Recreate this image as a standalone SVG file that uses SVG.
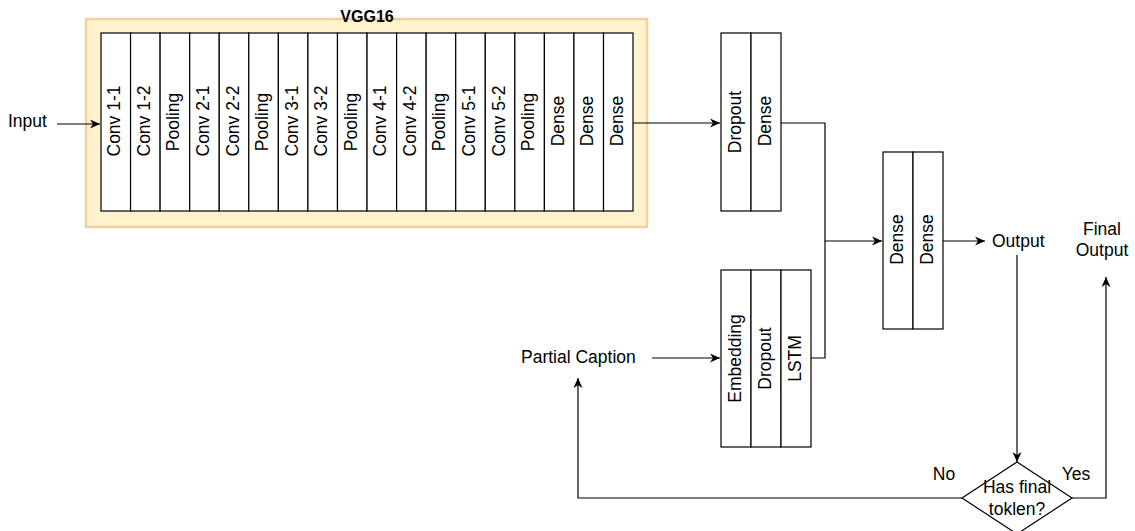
<svg xmlns="http://www.w3.org/2000/svg" width="1135" height="531" viewBox="0 0 1135 531">
<style>
  text { font-family: "Liberation Sans", Arial, sans-serif; font-size: 17.5px; fill: #000; }
  .lbl { text-anchor: middle; }
  .col { fill: #fff; stroke: #000; stroke-width: 1.2; }
  .con { fill: none; stroke: #000; stroke-width: 1.2; }
</style>
<defs>
  <marker id="arr" viewBox="0 0 10 10" refX="10" refY="5" markerWidth="10" markerHeight="10" markerUnits="userSpaceOnUse" orient="auto">
    <path d="M0,0.5 L10,5 L0,9.5 L3,5 z" fill="#000"/>
  </marker>
</defs>
<rect width="1135" height="531" fill="#fff"/>

<g id="vgg16">
  <rect x="86" y="19" width="561" height="208" fill="#fff2cc" stroke="#f0d39c" stroke-width="2.5"/>
  <text x="367" y="22" class="lbl" style="font-weight:bold;font-size:16px">VGG16</text>
  <g id="vgg-layers">
    <rect class="col" x="101" y="33" width="29.56" height="178"/>
    <rect class="col" x="130.56" y="33" width="29.56" height="178"/>
    <rect class="col" x="160.12" y="33" width="29.56" height="178"/>
    <rect class="col" x="189.68" y="33" width="29.56" height="178"/>
    <rect class="col" x="219.24" y="33" width="29.56" height="178"/>
    <rect class="col" x="248.8" y="33" width="29.56" height="178"/>
    <rect class="col" x="278.36" y="33" width="29.56" height="178"/>
    <rect class="col" x="307.92" y="33" width="29.56" height="178"/>
    <rect class="col" x="337.48" y="33" width="29.56" height="178"/>
    <rect class="col" x="367.04" y="33" width="29.56" height="178"/>
    <rect class="col" x="396.6" y="33" width="29.56" height="178"/>
    <rect class="col" x="426.16" y="33" width="29.56" height="178"/>
    <rect class="col" x="455.72" y="33" width="29.56" height="178"/>
    <rect class="col" x="485.28" y="33" width="29.56" height="178"/>
    <rect class="col" x="514.84" y="33" width="29.56" height="178"/>
    <rect class="col" x="544.4" y="33" width="29.56" height="178"/>
    <rect class="col" x="573.96" y="33" width="29.56" height="178"/>
    <rect class="col" x="603.52" y="33" width="29.48" height="178"/>
    <text class="lbl" transform="translate(120.3,121) rotate(-90)">Conv 1-1</text>
    <text class="lbl" transform="translate(149.8,121) rotate(-90)">Conv 1-2</text>
    <text class="lbl" transform="translate(179.4,122) rotate(-90)">Pooling</text>
    <text class="lbl" transform="translate(209,121) rotate(-90)">Conv 2-1</text>
    <text class="lbl" transform="translate(238.5,121) rotate(-90)">Conv 2-2</text>
    <text class="lbl" transform="translate(268.1,122) rotate(-90)">Pooling</text>
    <text class="lbl" transform="translate(297.6,121) rotate(-90)">Conv 3-1</text>
    <text class="lbl" transform="translate(327.2,121) rotate(-90)">Conv 3-2</text>
    <text class="lbl" transform="translate(356.8,122) rotate(-90)">Pooling</text>
    <text class="lbl" transform="translate(386.3,121) rotate(-90)">Conv 4-1</text>
    <text class="lbl" transform="translate(415.9,121) rotate(-90)">Conv 4-2</text>
    <text class="lbl" transform="translate(445.4,122) rotate(-90)">Pooling</text>
    <text class="lbl" transform="translate(475,121) rotate(-90)">Conv 5-1</text>
    <text class="lbl" transform="translate(504.6,121) rotate(-90)">Conv 5-2</text>
    <text class="lbl" transform="translate(534.1,122) rotate(-90)">Pooling</text>
    <text class="lbl" transform="translate(563.7,121) rotate(-90)">Dense</text>
    <text class="lbl" transform="translate(593.2,121) rotate(-90)">Dense</text>
    <text class="lbl" transform="translate(622.8,121) rotate(-90)">Dense</text>
  </g>
</g>

<g id="input">
  <text x="8" y="127">Input</text>
</g>

<g id="dropout-dense">
  <rect class="col" x="721" y="33" width="30" height="178"/>
  <rect class="col" x="751" y="33" width="30" height="178"/>
  <text class="lbl" transform="translate(740.5,122) rotate(-90)">Dropout</text>
  <text class="lbl" transform="translate(770.5,121) rotate(-90)">Dense</text>
</g>

<g id="partial-caption">
  <text x="521" y="363">Partial Caption</text>
</g>

<g id="embedding-dropout-lstm">
  <rect class="col" x="721" y="270" width="30" height="177"/>
  <rect class="col" x="751" y="270" width="30" height="177"/>
  <rect class="col" x="781" y="270" width="30" height="177"/>
  <text class="lbl" transform="translate(740.5,358.5) rotate(-90)">Embedding</text>
  <text class="lbl" transform="translate(770.5,358.5) rotate(-90)">Dropout</text>
  <text class="lbl" transform="translate(800.5,358.5) rotate(-90)">LSTM</text>
</g>

<g id="dense-dense">
  <rect class="col" x="883" y="152" width="30" height="177"/>
  <rect class="col" x="913" y="152" width="30" height="177"/>
  <text class="lbl" transform="translate(902.5,239.5) rotate(-90)">Dense</text>
  <text class="lbl" transform="translate(932.5,239.5) rotate(-90)">Dense</text>
</g>

<g id="output">
  <text x="992" y="247">Output</text>
</g>

<g id="final-output">
  <text x="1102" y="235" class="lbl">Final</text>
  <text x="1102" y="256" class="lbl">Output</text>
</g>

<g id="decision">
  <polygon points="1017,462 1072,498 1017,534 962,498" fill="#fff" stroke="#000" stroke-width="1.2"/>
  <text x="1017" y="493" class="lbl">Has final</text>
  <text x="1017" y="515" class="lbl">toklen?</text>
</g>

<g id="connectors">
  <path class="con" d="M57,124 H100" marker-end="url(#arr)"/>
  <path class="con" d="M633,123 H720" marker-end="url(#arr)"/>
  <path class="con" d="M781,123 H825 V241 H882" marker-end="url(#arr)"/>
  <path class="con" d="M811,358 H825 V241"/>
  <path class="con" d="M943,241 H985" marker-end="url(#arr)"/>
  <path class="con" d="M1017,255 V462" marker-end="url(#arr)"/>
  <path class="con" d="M1072,498 H1106 V277" marker-end="url(#arr)"/>
  <path class="con" d="M962,498 H578 V378" marker-end="url(#arr)"/>
  <path class="con" d="M652,358 H720" marker-end="url(#arr)"/>
  <text x="944" y="480" class="lbl">No</text>
  <text x="1076" y="480" class="lbl">Yes</text>
</g>
</svg>
